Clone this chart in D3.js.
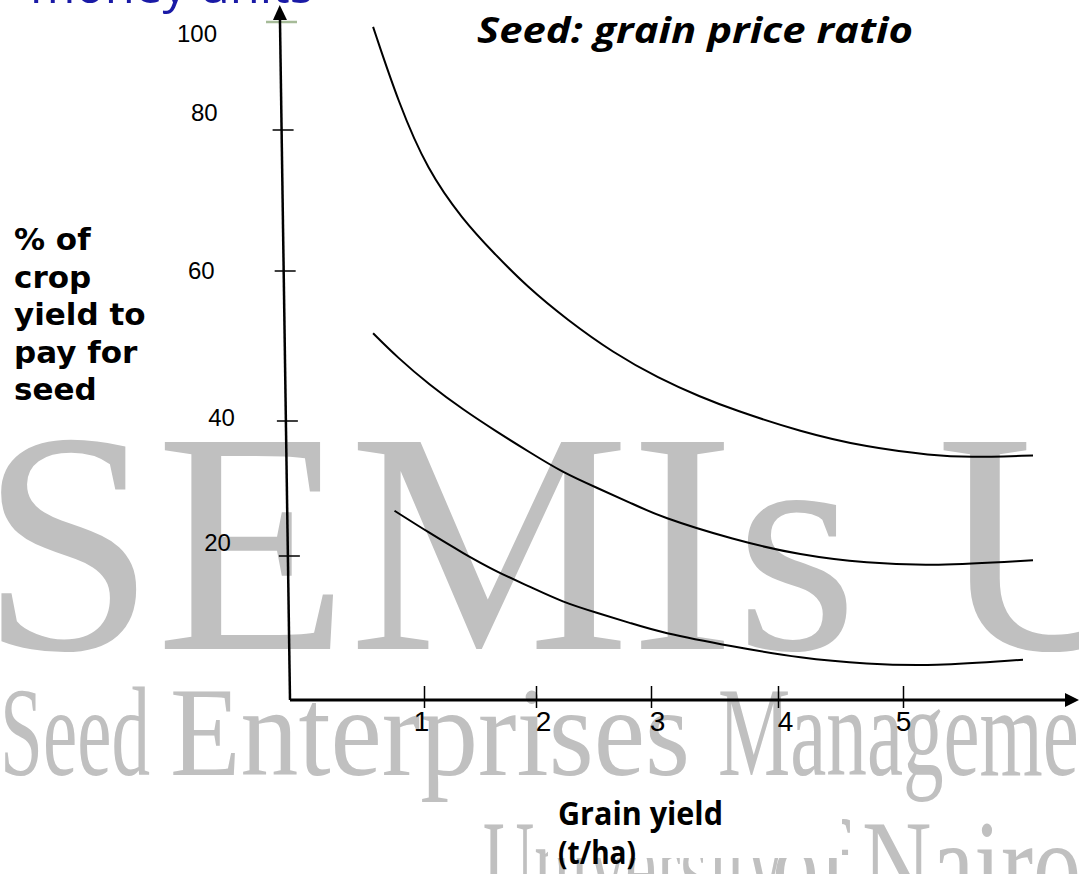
<!DOCTYPE html>
<html>
<head>
<meta charset="utf-8">
<script src="https://cdn.jsdelivr.net/npm/d3@7"></script>
<style>
  body { margin: 0; background: #fff; }
  svg { display: block; }
</style>
</head>
<body>
<div id="chart"></div>
<script>
// tick labels
var xTicks = [1, 2, 3, 4, 5];
var yTicks = [20, 40, 60, 80, 100];

// curves: grain yield (t/ha) vs % of crop to pay for seed
var highX = [0.62, 0.81, 1.03, 1.35, 1.62, 1.92, 2.27, 2.67, 3.06, 3.39, 3.65, 4.18, 4.71, 5.24, 5.51, 6.04];
var highY = [99.1, 85.0, 74.3, 67.2, 62.6, 57.9, 53.5, 49.1, 45.7, 43.2, 41.5, 38.4, 36.1, 34.9, 34.6, 34.9];

var midX = [0.62, 0.80, 1.05, 1.35, 1.65, 1.95, 2.23, 2.53, 2.82, 3.07, 3.65, 4.18, 4.71, 5.24, 6.04];
var midY = [51.7, 48.5, 44.8, 41.5, 38.4, 35.3, 32.4, 30.1, 27.9, 25.8, 22.4, 20.1, 19.0, 18.6, 19.4];

var lowX = [0.78, 1.05, 1.35, 1.65, 1.95, 2.23, 2.53, 2.82, 3.07, 3.65, 4.18, 4.71, 5.24, 5.96];
var lowY = [26.7, 23.4, 20.4, 17.8, 15.7, 13.6, 12.1, 10.7, 9.4, 7.4, 5.8, 5.0, 4.7, 5.6];

var W = 1079, H = 874;
var margin = {top: 22, right: 1, bottom: 174, left: 290},
    width = W - margin.left - margin.right,
    height = H - margin.top - margin.bottom;

// hand drawn axes: tick spacing is uneven, so piecewise scales
var x = d3.scaleLinear()
    .domain([0, 1, 2, 3, 4, 5, 6.4])
    .range([0, 134, 246, 361, 488, 613, 788]);
var y = d3.scaleLinear()
    .domain([0, 20, 40, 60, 80, 100])
    .range([height, 534, 399, 249, 108, 0]);

// the y axis leans a little to the left towards the top
function lean(py) { return -10 * (height - py) / height; }

var root = d3.select("#chart").append("svg")
    .attr("width", W)
    .attr("height", H);

// ---- watermark ----
var wm = root.append("g")
    .attr("fill", "#c0c0c0")
    .style("font-family", "'Liberation Serif', 'Times New Roman', serif");

wm.append("text")
    .attr("x", -20)
    .attr("y", 649)
    .style("font-size", "316px")
    .text("SEMIs U");

var wmWords = [
  {t: "Seed", x: 0, y: 775, w: 150},
  {t: "Enterprises", x: 170, y: 775, w: 520},
  {t: "Management", x: 718, y: 775, w: 424},
  {t: "University", x: 483, y: 908, w: 300},
  {t: "of", x: 772, y: 908, w: 78},
  {t: "Nairobi", x: 862, y: 908, w: 294}
];
wm.selectAll(".wmw")
    .data(wmWords)
  .enter().append("text")
    .attr("class", "wmw")
    .attr("x", function(d) { return d.x; })
    .attr("y", function(d) { return d.y; })
    .attr("textLength", function(d) { return d.w; })
    .attr("lengthAdjust", "spacingAndGlyphs")
    .style("font-size", "128px")
    .text(function(d) { return d.t; });

// white box behind the x axis title
root.append("rect")
    .attr("x", 548).attr("y", 783)
    .attr("width", 294).attr("height", 75)
    .attr("fill", "#fff");

// cut-off heading at the top
root.append("text")
    .attr("x", 30)
    .attr("y", 3)
    .attr("textLength", 283)
    .attr("lengthAdjust", "spacingAndGlyphs")
    .attr("fill", "#1a1aa6")
    .style("font-family", "'Open Sans', sans-serif")
    .style("font-size", "48px")
    .text("money units");

// title
root.append("text")
    .attr("x", 477)
    .attr("y", 43)
    .attr("textLength", 436)
    .attr("lengthAdjust", "spacingAndGlyphs")
    .style("font-family", "'Open Sans', sans-serif")
    .style("font-weight", "bold")
    .style("font-style", "italic")
    .style("font-size", "36px")
    .text("Seed: grain price ratio");

// y axis title
var yTitle = ["% of", "crop", "yield to", "pay for", "seed"];
root.append("text")
    .style("font-family", "'DejaVu Sans', Verdana, sans-serif")
    .style("font-weight", "bold")
    .style("font-size", "31px")
  .selectAll("tspan")
    .data(yTitle)
  .enter().append("tspan")
    .attr("x", 14)
    .attr("y", function(d, i) { return 250 + i * 37.5; })
    .text(function(d) { return d; });

// x axis title
root.append("text")
    .attr("x", 558).attr("y", 825)
    .attr("textLength", 165)
    .attr("lengthAdjust", "spacingAndGlyphs")
    .style("font-family", "'Open Sans', sans-serif")
    .style("font-weight", "bold")
    .style("font-size", "33px")
    .text("Grain yield");
root.append("text")
    .attr("x", 558).attr("y", 864)
    .attr("textLength", 78)
    .attr("lengthAdjust", "spacingAndGlyphs")
    .style("font-family", "'Open Sans', sans-serif")
    .style("font-weight", "bold")
    .style("font-size", "33px")
    .text("(t/ha)");

// ---- chart ----
var svg = root.append("g")
    .attr("transform", "translate(" + margin.left + "," + margin.top + ")");

// curves
var line = d3.line()
    .x(function(d) { return x(d[0]); })
    .y(function(d) { return y(d[1]); })
    .curve(d3.curveBasis);

svg.selectAll(".curve")
    .data([d3.zip(highX, highY), d3.zip(midX, midY), d3.zip(lowX, lowY)])
  .enter().append("path")
    .attr("class", "curve")
    .attr("d", line)
    .attr("fill", "none")
    .attr("stroke", "#000")
    .attr("stroke-width", 2);

// x axis
var xAxis = svg.append("g")
    .attr("transform", "translate(0," + height + ")")
    .call(d3.axisBottom(x).tickValues(xTicks).tickFormat(d3.format("d")).tickSize(0));
xAxis.select(".domain").remove();
xAxis.selectAll(".tick line")
    .attr("y1", -14).attr("y2", 8)
    .attr("stroke", "#000").attr("stroke-width", 1.5);
var xNudge = {1: -3, 2: 7, 3: 6, 4: 7, 5: 0};
xAxis.selectAll(".tick text")
    .attr("x", function(d) { return xNudge[d]; })
    .attr("y", 21)
    .attr("dy", "0.35em")
    .attr("fill", "#000")
    .style("font-family", "'Liberation Sans Narrow', 'Arial Narrow', sans-serif")
    .style("font-size", "28px");

svg.append("line")
    .attr("x1", 0).attr("y1", height)
    .attr("x2", width - 10).attr("y2", height)
    .attr("stroke", "#000").attr("stroke-width", 3);
svg.append("path")
    .attr("d", "M" + (width + 1) + "," + height + "L" + (width - 13) + "," + (height - 7) +
               "L" + (width - 13) + "," + (height + 7) + "Z")
    .attr("fill", "#000");

// y axis
var yAxis = svg.append("g")
    .call(d3.axisLeft(y).tickValues(yTicks).tickSize(0));
yAxis.select(".domain").remove();
yAxis.selectAll(".tick")
    .attr("transform", function(d) { return "translate(" + lean(y(d)) + "," + y(d) + ")"; });
yAxis.selectAll(".tick line")
    .attr("x1", function(d) { return d === 100 ? -14 : -9; })
    .attr("x2", function(d) { return d === 100 ? 17 : 12; })
    .attr("stroke", function(d) { return d === 100 ? "#a6bb98" : "#000"; })
    .attr("stroke-width", function(d) { return d === 100 ? 2.5 : 1.5; });
var yNudge = {100: [-63, 12], 80: [-64, -17], 60: [-69, 0], 40: [-51, -3], 20: [-57, -13]};
yAxis.selectAll(".tick text")
    .attr("x", function(d) { return yNudge[d][0]; })
    .attr("y", function(d) { return yNudge[d][1]; })
    .attr("dy", "0.35em")
    .attr("text-anchor", "end")
    .attr("fill", "#000")
    .style("font-family", "'Liberation Sans', Arial, sans-serif")
    .style("font-size", "24px");

svg.append("line")
    .attr("x1", 0).attr("y1", height)
    .attr("x2", lean(-2)).attr("y2", -2)
    .attr("stroke", "#000").attr("stroke-width", 2.5);
svg.append("path")
    .attr("d", "M" + lean(-17) + ",-17L" + (lean(-2) - 7) + ",-2L" + (lean(-2) + 7) + ",-2Z")
    .attr("fill", "#000");
</script>
</body>
</html>
